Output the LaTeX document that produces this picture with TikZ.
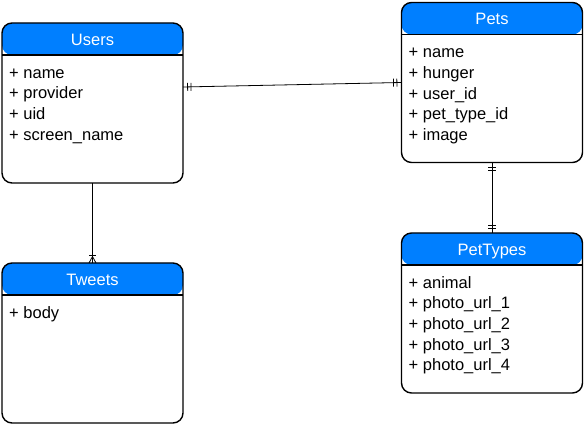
\documentclass[tikz,border=0pt]{standalone}
\usepackage{fontspec}
\setmainfont{Liberation Sans}
\usetikzlibrary{positioning,decorations.markings}
\definecolor{hdrblue}{RGB}{0,127,255}

\begin{document}
\begin{tikzpicture}[
  node distance=80pt and 219pt,
  entity/.style={draw,rounded corners=10pt,line width=1.4pt,minimum width=181pt,minimum height=160pt,inner sep=0pt,outer sep=0pt,
    path picture={\fill[hdrblue] (path picture bounding box.north west) rectangle ([yshift=-32pt]path picture bounding box.north east);
      \draw[line width=1.4pt] ([yshift=-32pt]path picture bounding box.north west) -- ([yshift=-32pt]path picture bounding box.north east);}},
  tabletitle/.style={text=white,font=\fontsize{16.5}{19}\selectfont,anchor=base,inner sep=0pt},
  fieldlist/.style={align=left,anchor=north west,inner sep=0pt,font=\fontsize{16.5}{20.7}\selectfont},
  rel/.style={line width=0.8pt},
  onestart/.style={postaction={decorate,decoration={markings,
      mark=at position 4.6pt with {\draw[rel] (0,-4pt) -- (0,4pt);},
      mark=at position 8pt with {\draw[rel] (0,-4pt) -- (0,4pt);}}}},
  oneend/.style={postaction={decorate,decoration={markings,
      mark=at position -4.6pt with {\draw[rel] (0,-4pt) -- (0,4pt);},
      mark=at position -8pt with {\draw[rel] (0,-4pt) -- (0,4pt);}}}},
  manyend/.style={postaction={decorate,decoration={markings,
      mark=at position -8pt with {\draw[rel] (0,-3.5pt) -- (0,3.5pt);},
      mark=at position -6.5pt with {\draw[rel] (6.5pt,-3.5pt) -- (0,0) -- (6.5pt,3.5pt);}}}}
]
\useasboundingbox (0pt,0pt) rectangle (584pt,428pt);

\node[entity] (users) at (92.5pt,325pt) {};
\node[entity,below =of users] (tweets) {};
\node[entity] (pets) at (492pt,345.5pt) {};
\node[entity,below =70.5pt of pets] (pettypes) {};

\node[tabletitle] (users-title) at ([yshift=-22.3pt]users.north) {Users};
\node[tabletitle] (tweets-title) at ([yshift=-22.3pt]tweets.north) {Tweets};
\node[tabletitle] (pets-title) at ([yshift=-22.3pt]pets.north) {Pets};
\node[tabletitle] (pettypes-title) at ([yshift=-22.3pt]pettypes.north) {PetTypes};

% first line carries a 12pt rule so the first baseline sits 12pt under the node top
\node[fieldlist] (users-fields) at ([xshift=7pt,yshift=-43pt]users.north west)
  {\rule{0pt}{12pt}+ name\\+ provider\\+ uid\\+ screen\_name};
\node[fieldlist] (tweets-fields) at ([xshift=7pt,yshift=-43pt]tweets.north west)
  {\rule{0pt}{12pt}+ body};
\node[fieldlist] (pets-fields) at ([xshift=7pt,yshift=-43pt]pets.north west)
  {\rule{0pt}{12pt}+ name\\+ hunger\\+ user\_id\\+ pet\_type\_id\\+ image};
\node[fieldlist] (pettypes-fields) at ([xshift=7pt,yshift=-43pt]pettypes.north west)
  {\rule{0pt}{12pt}+ animal\\+ photo\_url\_1\\+ photo\_url\_2\\+ photo\_url\_3\\+ photo\_url\_4};

\draw[rel,onestart,oneend] ([yshift=16pt]users.east) -- (pets.west);
\draw[rel,manyend] (users.south) -- (tweets.north);
\draw[rel,onestart,oneend] (pets.south) -- (pettypes.north);

\end{tikzpicture}
\end{document}
